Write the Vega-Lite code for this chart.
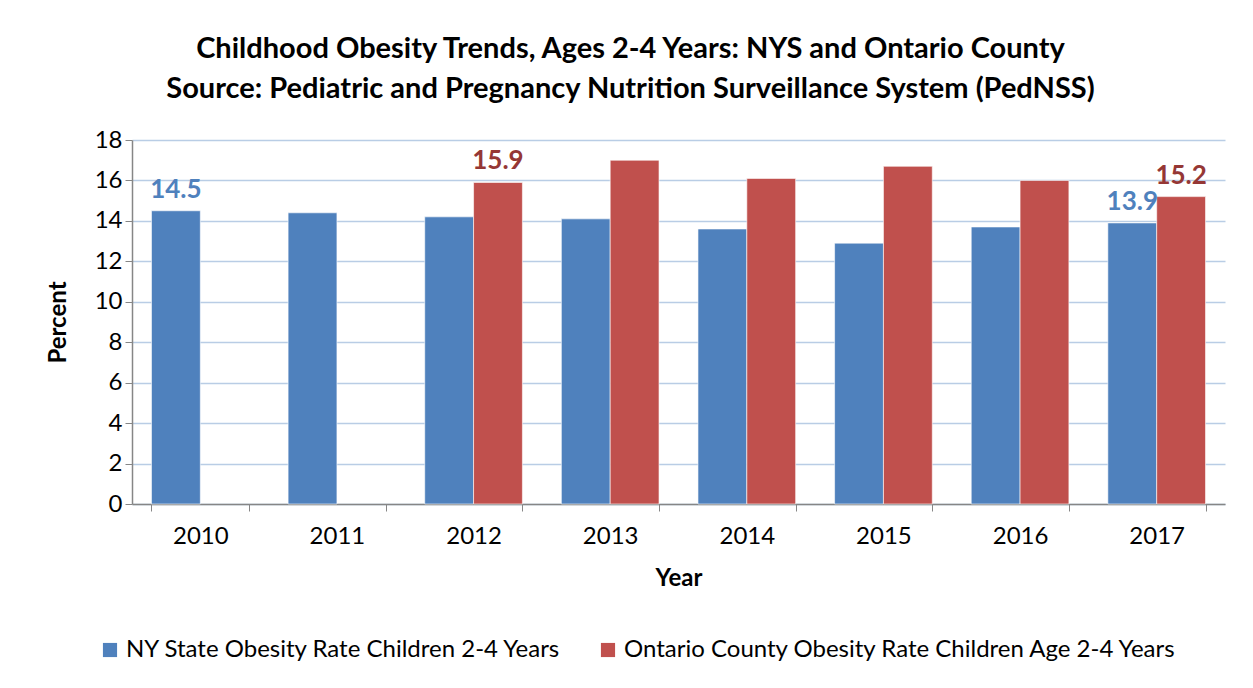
{
  "$schema": "https://vega.github.io/schema/vega-lite/v6.json",
  "width": 1093,
  "height": 364,
  "autosize": {"type": "none"},
  "padding": {"left": 132, "top": 140, "right": 28, "bottom": 184},
  "background": "white",
  "config": {"view": {"stroke": null}, "font": "Lato"},
  "title": {
    "text": ["Childhood Obesity Trends, Ages 2-4 Years: NYS and Ontario County", "Source: Pediatric and Pregnancy Nutrition Surveillance System (PedNSS)"],
    "font": "Lato",
    "fontSize": 29,
    "fontWeight": "bold",
    "color": "black",
    "anchor": "middle",
    "dx": -48,
    "offset": 24,
    "lineHeight": 40
  },
  "data": {
    "values": [
      {"Year": "2010", "Series": "NY State Obesity Rate Children 2-4 Years", "Percent": 14.5, "Label": "14.5"},
      {"Year": "2011", "Series": "NY State Obesity Rate Children 2-4 Years", "Percent": 14.4, "Label": null},
      {"Year": "2012", "Series": "NY State Obesity Rate Children 2-4 Years", "Percent": 14.2, "Label": null},
      {"Year": "2013", "Series": "NY State Obesity Rate Children 2-4 Years", "Percent": 14.1, "Label": null},
      {"Year": "2014", "Series": "NY State Obesity Rate Children 2-4 Years", "Percent": 13.6, "Label": null},
      {"Year": "2015", "Series": "NY State Obesity Rate Children 2-4 Years", "Percent": 12.9, "Label": null},
      {"Year": "2016", "Series": "NY State Obesity Rate Children 2-4 Years", "Percent": 13.7, "Label": null},
      {"Year": "2017", "Series": "NY State Obesity Rate Children 2-4 Years", "Percent": 13.9, "Label": "13.9"},
      {"Year": "2012", "Series": "Ontario County Obesity Rate Children Age 2-4 Years", "Percent": 15.9, "Label": "15.9"},
      {"Year": "2013", "Series": "Ontario County Obesity Rate Children Age 2-4 Years", "Percent": 17.0, "Label": null},
      {"Year": "2014", "Series": "Ontario County Obesity Rate Children Age 2-4 Years", "Percent": 16.1, "Label": null},
      {"Year": "2015", "Series": "Ontario County Obesity Rate Children Age 2-4 Years", "Percent": 16.7, "Label": null},
      {"Year": "2016", "Series": "Ontario County Obesity Rate Children Age 2-4 Years", "Percent": 16.0, "Label": null},
      {"Year": "2017", "Series": "Ontario County Obesity Rate Children Age 2-4 Years", "Percent": 15.2, "Label": "15.2"}
    ]
  },
  "encoding": {
    "x": {
      "field": "Year",
      "type": "nominal",
      "scale": {"paddingInner": 0.285, "paddingOuter": 0.1425},
      "axis": {
        "title": "Year",
        "titleFontSize": 24,
        "titleFontWeight": "bold",
        "titleColor": "black",
        "titlePadding": 18,
        "labelAngle": 0,
        "labelFontSize": 24,
        "labelColor": "black",
        "labelPadding": 13,
        "tickBand": "extent",
        "tickSize": 7,
        "tickColor": "#868686",
        "domainColor": "#868686",
        "domainWidth": 1.5,
        "grid": false
      }
    },
    "xOffset": {
      "field": "Series",
      "scale": {"domain": ["NY State Obesity Rate Children 2-4 Years", "Ontario County Obesity Rate Children Age 2-4 Years"]}
    },
    "y": {
      "field": "Percent",
      "type": "quantitative",
      "scale": {"domain": [0, 18]},
      "axis": {
        "title": "Percent",
        "titleFontSize": 24,
        "titleFontWeight": "bold",
        "titleColor": "black",
        "titlePadding": 24,
        "values": [0, 2, 4, 6, 8, 10, 12, 14, 16, 18],
        "labelFontSize": 24,
        "labelColor": "black",
        "labelPadding": 3,
        "tickSize": 7,
        "tickColor": "#868686",
        "domainColor": "#868686",
        "domainWidth": 1.5,
        "gridColor": "#B9CDE5",
        "gridWidth": 1.5
      }
    }
  },
  "layer": [
    {
      "mark": {"type": "bar", "stroke": "white", "strokeWidth": 0.6},
      "encoding": {
        "color": {
          "field": "Series",
          "type": "nominal",
          "scale": {"domain": ["NY State Obesity Rate Children 2-4 Years", "Ontario County Obesity Rate Children Age 2-4 Years"], "range": ["#4F81BD", "#C0504D"]},
          "legend": {
            "title": null,
            "orient": "none",
            "direction": "horizontal",
            "legendX": -34,
            "legendY": 498,
            "symbolType": "square",
            "symbolSize": 200,
            "symbolStrokeWidth": 0,
            "labelFontSize": 24,
            "labelColor": "black",
            "labelOffset": 4,
            "columnPadding": 34,
            "labelLimit": 800
          }
        }
      }
    },
    {
      "transform": [{"filter": "datum.Label != null"}],
      "mark": {"type": "text", "baseline": "bottom", "dy": -8, "fontSize": 26, "fontWeight": "bold", "font": "Lato"},
      "encoding": {
        "text": {"field": "Label"},
        "color": {
          "field": "Series",
          "type": "nominal",
          "scale": {"domain": ["NY State Obesity Rate Children 2-4 Years", "Ontario County Obesity Rate Children Age 2-4 Years"], "range": ["#4F81BD", "#953735"]},
          "legend": null
        }
      }
    }
  ],
  "resolve": {"scale": {"color": "independent"}}
}
